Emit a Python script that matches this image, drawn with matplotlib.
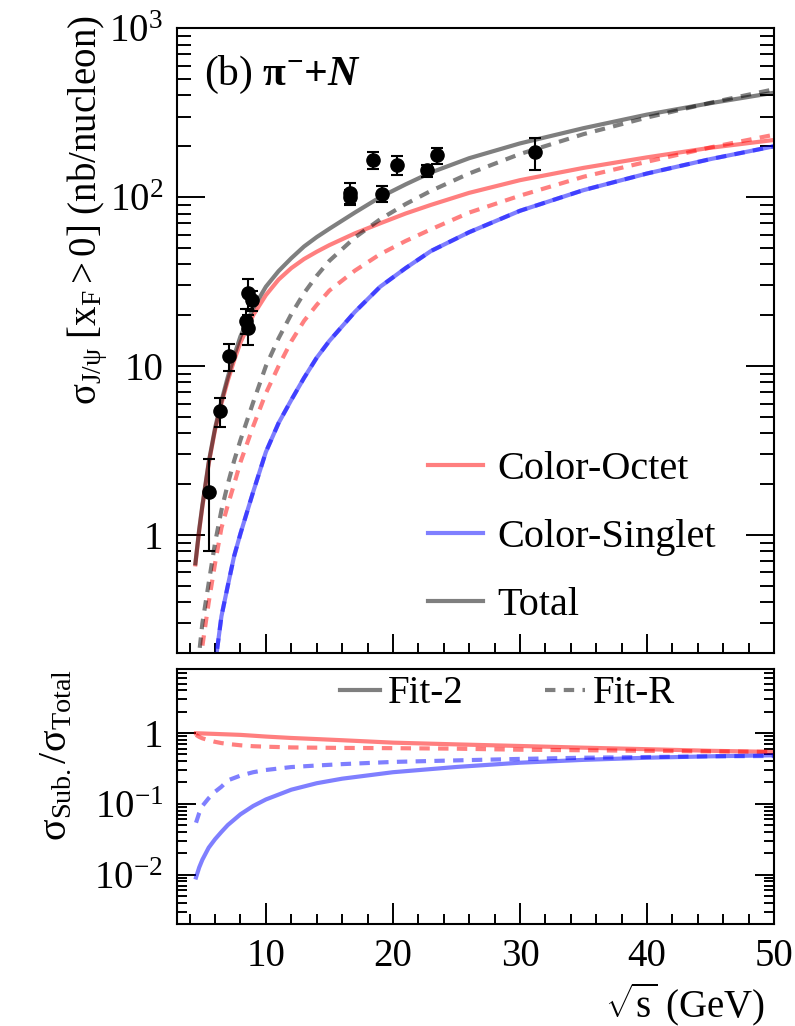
import matplotlib.pyplot as plt
import numpy as np
from matplotlib.lines import Line2D
from matplotlib.ticker import FixedLocator, FixedFormatter, LogLocator, NullFormatter, MultipleLocator

plt.rcParams['font.family'] = ['Liberation Serif', 'DejaVu Serif']
plt.rcParams['mathtext.fontset'] = 'custom'
plt.rcParams['mathtext.rm'] = 'Liberation Serif'
plt.rcParams['mathtext.it'] = 'Liberation Serif:italic'
plt.rcParams['mathtext.bf'] = 'Liberation Serif:bold'
plt.rcParams['mathtext.bfit'] = 'Liberation Serif:italic:bold'

# measured J/psi cross sections (pi- + N)
data_x = [5.5, 6.41, 7.09, 8.57, 8.9, 8.45, 8.57, 16.65, 16.65, 18.47, 19.17, 20.34, 22.69, 23.5, 31.2]
data_y = [1.8, 5.4, 11.4, 27.2, 24.5, 18.6, 16.7, 106, 100, 166, 105, 155, 144, 177, 185]
data_err = [1.0, 1.05, 2.1, 5.4, 3.3, 3.1, 3.4, 15, 10, 20, 12, 20, 12, 19, 40]

# model curves
sqrt_s = [4.45, 4.75, 5.0, 5.5, 6.0, 6.5, 7.0, 7.5, 8.0, 9.0, 10, 11, 12, 13, 14, 15,
          17, 19, 21, 23, 26, 30, 35, 40, 45, 50]
co_fit2 = [0.67, 1.06, 1.47, 2.65, 4.2, 6.0, 8.2, 10.8, 13.8, 20, 26.3, 32.5, 38, 43, 47.5, 52,
           61, 70, 80, 90, 106, 126, 149, 172, 196, 218]
co_fitR = [0.08, 0.15, 0.22, 0.4, 0.68, 1.1, 1.5, 2.0, 2.7, 4.4, 6.9, 10, 14, 18.5, 23, 28,
           36.7, 46, 55, 64.5, 81, 102, 132, 162, 197, 234]
cs_fit = [0.006, 0.011, 0.022, 0.065, 0.17, 0.33, 0.5, 0.75, 1.02, 1.8, 3.1, 4.6, 6.3, 8.5, 11.2, 14.1,
          20.9, 29.5, 38, 48, 62, 83, 110, 138, 168, 200]
tot_fit2 = [0.68, 1.08, 1.5, 2.7, 4.3, 6.2, 8.6, 11.5, 15, 22, 29.5, 36.5, 43.5, 51, 58, 65,
            81, 100, 119, 140, 170, 208, 256, 308, 360, 415]
tot_fitR = [0.1, 0.2, 0.3, 0.52, 0.9, 1.4, 2.0, 2.75, 3.65, 6.1, 10, 14.6, 20.3, 27, 34.2, 42,
            57.6, 74, 91, 109, 138, 180, 236, 296, 362, 435]

# ratios to total (lower panel)
ratio_x = [4.5, 4.75, 5.0, 5.5, 6.0, 6.5, 7.0, 8.0, 9.0, 10, 12, 14, 16, 20, 25, 30, 35, 40, 45, 50]
co_ratio2 = [0.99, 0.988, 0.985, 0.977, 0.97, 0.962, 0.955, 0.94, 0.915, 0.89, 0.85, 0.82, 0.79,
             0.73, 0.69, 0.655, 0.62, 0.59, 0.56, 0.54]
cs_ratio2 = [0.0091, 0.0126, 0.0162, 0.024, 0.0316, 0.04, 0.05, 0.071, 0.093, 0.115, 0.158, 0.195,
             0.226, 0.279, 0.331, 0.38, 0.417, 0.447, 0.468, 0.484]
co_ratioR = [0.94, 0.88, 0.84, 0.79, 0.75, 0.72, 0.7, 0.67, 0.65, 0.64, 0.625, 0.62, 0.615,
             0.61, 0.6, 0.58, 0.57, 0.56, 0.55, 0.54]
cs_ratioR = [0.054, 0.074, 0.093, 0.12, 0.148, 0.174, 0.214, 0.25, 0.279, 0.3, 0.33, 0.347, 0.363,
             0.39, 0.41, 0.43, 0.447, 0.457, 0.468, 0.473]

red = (1, 0, 0, 0.5)
blue = (0, 0, 1, 0.5)
gray = (0, 0, 0, 0.5)
lw = 3
dash = (2.5, 2)

fig = plt.figure(figsize=(7.95, 10.26), dpi=100)
ax1 = fig.add_axes([0.2226, 0.3635, 0.751, 0.609])
ax2 = fig.add_axes([0.2226, 0.0994, 0.751, 0.2485])

# upper panel
ax1.plot(sqrt_s, co_fit2, color=red, lw=lw)
ax1.plot(sqrt_s, co_fitR, color=red, lw=lw, dashes=dash)
ax1.plot(sqrt_s, cs_fit, color=blue, lw=lw)
ax1.plot(sqrt_s, cs_fit, color=blue, lw=lw, dashes=dash)
ax1.plot(sqrt_s, tot_fit2, color=gray, lw=lw)
ax1.plot(sqrt_s, tot_fitR, color=gray, lw=lw, dashes=dash)
ax1.errorbar(data_x, data_y, yerr=data_err, fmt='o', color='black', ms=9.5,
             capsize=4.5, elinewidth=1.5, capthick=1.5)

ax1.set_yscale('log')
ax1.set_xlim(3, 50)
ax1.set_ylim(0.2, 1000)
ax1.yaxis.set_major_locator(FixedLocator([1, 10, 100, 1000]))
ax1.yaxis.set_major_formatter(FixedFormatter(['1', '10', '$10^2$', '$10^3$']))
ax1.yaxis.set_minor_locator(LogLocator(base=10, subs=np.arange(2, 10), numticks=20))
ax1.yaxis.set_minor_formatter(NullFormatter())
ax1.xaxis.set_major_locator(MultipleLocator(10))
ax1.xaxis.set_minor_locator(MultipleLocator(2))
ax1.tick_params(axis='x', labelbottom=False)
ax1.tick_params(axis='y', which='major', length=20, labelsize=28, pad=10)
ax1.tick_params(axis='y', which='minor', length=10)
ax1.tick_params(axis='x', which='major', length=14)
ax1.tick_params(axis='x', which='minor', length=7)
ax1.tick_params(which='both', direction='in', top=False, right=True, width=1.4)

ax1.set_ylabel(r'$\mathrm{\sigma}_{\mathrm{J/\psi}}\ [\mathrm{x_F} > 0]$ (nb/nucleon)', fontsize=28, loc='top')
ax1.yaxis.set_label_coords(-0.113, 1.02)
ax1.text(0.045, 0.925, r'(b) $\mathbf{\pi}^{\mathbf{-}}\mathbf{+}\boldsymbol{N}$', transform=ax1.transAxes,
         fontsize=30, va='center', ha='left')

handles = [Line2D([], [], color=red, lw=lw), Line2D([], [], color=blue, lw=lw),
           Line2D([], [], color=gray, lw=lw)]
ax1.legend(handles, ['Color-Octet', 'Color-Singlet', 'Total'], loc='upper left',
           bbox_to_anchor=(0.42, 0.324), frameon=False, fontsize=29, borderpad=0,
           borderaxespad=0, handlelength=1.37, labelspacing=0.77, handletextpad=0.37)

# lower panel
ax2.plot(ratio_x, co_ratio2, color=red, lw=lw)
ax2.plot(ratio_x, co_ratioR, color=red, lw=lw, dashes=dash)
ax2.plot(ratio_x, cs_ratio2, color=blue, lw=lw)
ax2.plot(ratio_x, cs_ratioR, color=blue, lw=lw, dashes=dash)

ax2.set_yscale('log')
ax2.set_xlim(3, 50)
ax2.set_ylim(0.002, 8)
ax2.yaxis.set_major_locator(FixedLocator([0.01, 0.1, 1]))
ax2.yaxis.set_major_formatter(FixedFormatter(['$10^{-2}$', '$10^{-1}$', '1']))
ax2.yaxis.set_minor_locator(LogLocator(base=10, subs=np.arange(2, 10), numticks=20))
ax2.yaxis.set_minor_formatter(NullFormatter())
ax2.xaxis.set_major_locator(MultipleLocator(10))
ax2.xaxis.set_minor_locator(MultipleLocator(2))
ax2.tick_params(axis='both', labelsize=28)
ax2.tick_params(axis='x', pad=10)
ax2.tick_params(axis='y', pad=10)
ax2.tick_params(axis='y', which='major', length=14)
ax2.tick_params(axis='y', which='minor', length=7)
ax2.tick_params(axis='x', which='major', length=15)
ax2.tick_params(axis='x', which='minor', length=7)
ax2.tick_params(which='both', direction='in', top=False, right=True, width=1.4)

ax2.set_ylabel(r'$\mathrm{\sigma}_{\mathrm{Sub.}}/\mathrm{\sigma}_{\mathrm{Total}}$', fontsize=29, loc='top')
ax2.yaxis.set_label_coords(-0.17, 1.0)
ax2.set_xlabel(r'$\sqrt{\mathrm{s}}$ (GeV)', fontsize=28, loc='right')
ax2.xaxis.set_label_coords(0.985, -0.22)

fit_handles = [Line2D([], [], color=gray, lw=lw), Line2D([], [], color=gray, lw=lw, dashes=dash)]
ax2.legend(fit_handles, ['Fit-2', 'Fit-R'], loc='upper left', bbox_to_anchor=(0.273, 0.975),
           ncol=2, frameon=False, fontsize=28, borderpad=0, borderaxespad=0, handlelength=1.03,
           columnspacing=2.1, handletextpad=0.2)

for ax in (ax1, ax2):
    for sp in ax.spines.values():
        sp.set_linewidth(1.5)

fig.savefig('out.png', dpi=100)
